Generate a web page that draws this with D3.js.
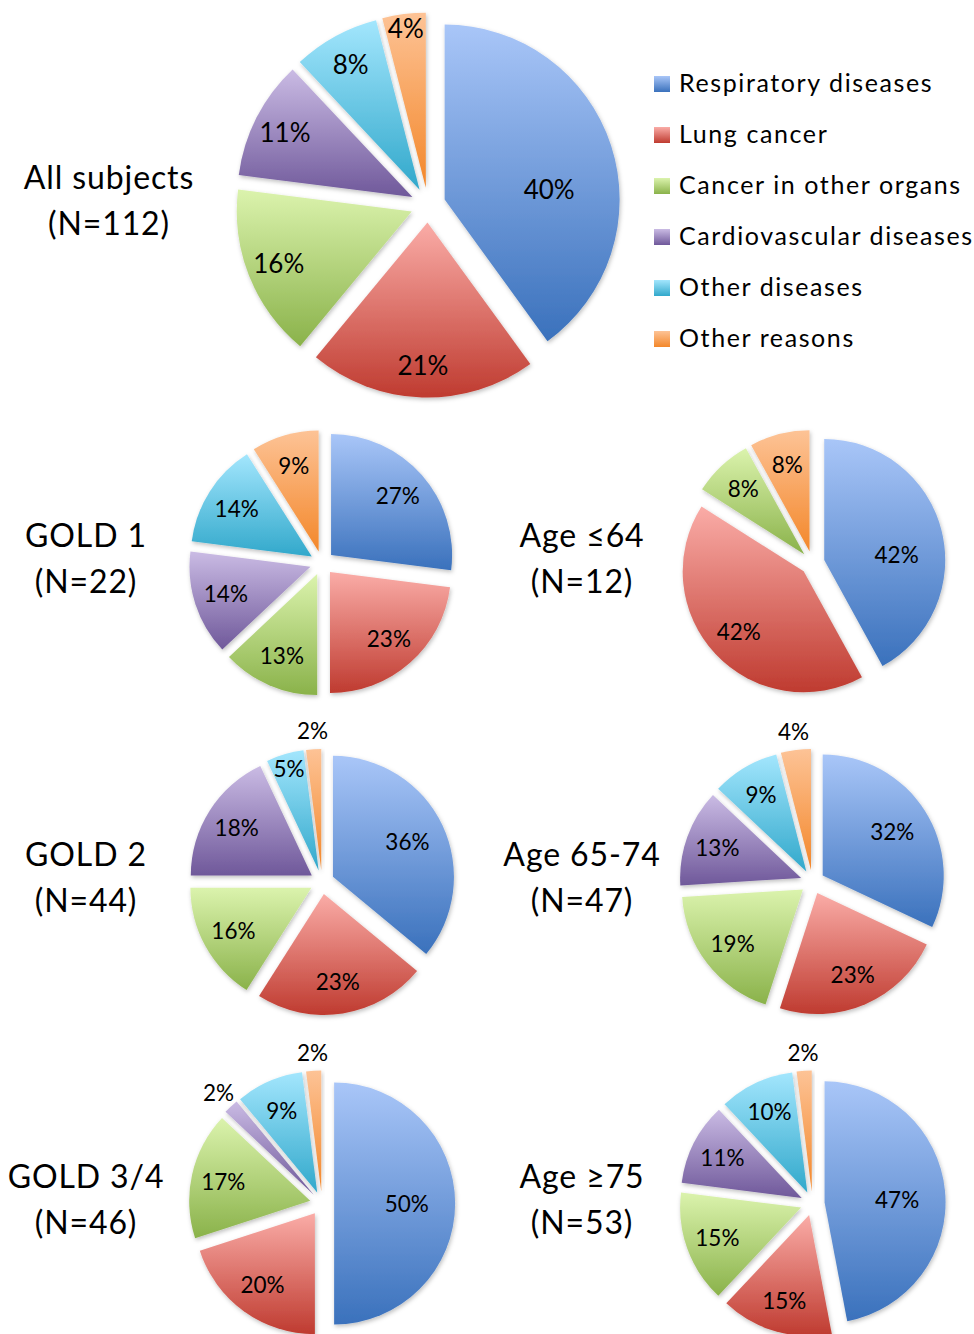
<!DOCTYPE html>
<html>
<head>
<meta charset="utf-8">
<script src="https://cdn.jsdelivr.net/npm/d3@7"></script>
<style>
  html, body { margin: 0; padding: 0; background: #fff; }
  svg { display: block; }
  text { font-family: Lato, "Open Sans", sans-serif; fill: #000; }
</style>
</head>
<body>
<svg id="chart" width="974" height="1334"></svg>
<script>
// ---------- data ----------
const categories = ["Respiratory diseases", "Lung cancer", "Cancer in other organs",
                    "Cardiovascular diseases", "Other diseases", "Other reasons"];
const groupTitles = ["All subjects", "GOLD 1", "Age \u226464", "GOLD 2", "Age 65-74", "GOLD 3/4", "Age \u226575"];
const groupN      = [112, 22, 12, 44, 47, 46, 53];
const allSubjects = [40, 21, 16, 11, 8, 4];
const gold1       = [27, 23, 13, 14, 14, 9];
const age64       = [42, 42, 8, 0, 0, 8];
const gold2       = [36, 23, 16, 18, 5, 2];
const age65_74    = [32, 23, 19, 13, 9, 4];
const gold34      = [50, 20, 17, 2, 9, 2];
const age75       = [47, 15, 15, 11, 10, 2];
const groupValues = [allSubjects, gold1, age64, gold2, age65_74, gold34, age75];

// ---------- styles / layout ----------
const gradColors = [
  ["#a9c6f8", "#3a71bc"],
  ["#faaca7", "#bf3b30"],
  ["#dbf3ad", "#8ab24a"],
  ["#cabbe4", "#6f589a"],
  ["#a3e6fd", "#31a8cb"],
  ["#fdc396", "#f3872a"]
];
const layout = [
  { cx: 428,   cy: 205,    r: 175, tx: 109, labelSize: 26 },
  { cx: 322,   cy: 563,    r: 121, tx: 86,  labelSize: 22.5 },
  { cx: 812.5, cy: 563,    r: 121, tx: 582, labelSize: 22.5 },
  { cx: 322,   cy: 882,    r: 121, tx: 86,  labelSize: 22.5 },
  { cx: 812.5, cy: 882,    r: 121, tx: 582, labelSize: 22.5 },
  { cx: 322,   cy: 1203.5, r: 121, tx: 86,  labelSize: 22.5 },
  { cx: 812.5, cy: 1203.5, r: 121, tx: 582, labelSize: 22.5 }
];

const svg = d3.select("#chart");
const defs = svg.append("defs");

gradColors.forEach((c, i) => {
  const g = defs.append("linearGradient")
    .attr("id", "grad" + i)
    .attr("x1", 0).attr("y1", 0).attr("x2", 0).attr("y2", 1);
  g.append("stop").attr("offset", "0%").attr("stop-color", c[0]);
  g.append("stop").attr("offset", "100%").attr("stop-color", c[1]);
});

const shadow = defs.append("filter").attr("id", "shadow")
  .attr("x", "-20%").attr("y", "-20%").attr("width", "140%").attr("height", "140%");
shadow.append("feDropShadow")
  .attr("dx", 1).attr("dy", 2).attr("stdDeviation", 2)
  .attr("flood-color", "#000").attr("flood-opacity", 0.25);

const color = d3.scaleOrdinal().domain(d3.range(categories.length)).range(gradColors.map((c, i) => `url(#grad${i})`));

const pie = d3.pie().sort(null).value(d => d.v);

// Excel-like "best fit" label placement
function labelPos(d, r) {
  const m = (d.startAngle + d.endAngle) / 2;
  const s = (d.endAngle - d.startAngle) * r;
  let lr, a = m;
  if (s < 33) lr = r + 18;
  else if (s < 45) lr = r - 15;
  else if (d.index === 0 && d.data.v >= 40) { lr = 0.6 * r; a = 0.3 * m + 0.7 * Math.PI / 2; }
  else if (d.index === 0 && d.data.v >= 30) lr = 0.68 * r;
  else lr = r - 32;
  return [lr * Math.sin(a), -lr * Math.cos(a)];
}

groupValues.forEach((vals, gi) => {
  const L = layout[gi];
  const r = L.r, explode = 0.1 * r;
  const arc = d3.arc().innerRadius(0).outerRadius(r);
  const data = pie(vals.map((v, i) => ({ v, i })));
  const g = svg.append("g").attr("transform", `translate(${L.cx},${L.cy})`);

  const slices = g.selectAll("g.slice")
    .data(data.filter(d => d.data.v > 0))
    .join("g")
    .attr("class", "slice")
    .attr("transform", d => {
      const m = (d.startAngle + d.endAngle) / 2;
      return `translate(${explode * Math.sin(m)},${-explode * Math.cos(m)})`;
    });

  slices.append("path")
    .attr("d", arc)
    .attr("fill", d => color(d.data.i))
    .attr("filter", "url(#shadow)");

  slices.append("text")
    .attr("text-anchor", "middle")
    .attr("dy", "0.36em")
    .style("font-size", L.labelSize + "px")
    .attr("transform", d => `translate(${labelPos(d, r)})`)
    .text(d => d.data.v + "%");

  // title
  const t = svg.append("text")
    .attr("text-anchor", "middle")
    .style("font-size", "32px")
    .style("letter-spacing", "0.9px");
  t.append("tspan").attr("x", L.tx).attr("y", L.cy - 16).text(groupTitles[gi]);
  t.append("tspan").attr("x", L.tx).attr("y", L.cy + 30).text(`(N=${groupN[gi]})`);
});

// legend
const legend = svg.append("g").attr("transform", "translate(654,92)");
const items = legend.selectAll("g").data(categories).join("g")
  .attr("transform", (d, i) => `translate(0,${i * 51})`);
items.append("rect")
  .attr("x", 0).attr("y", -16).attr("width", 16).attr("height", 16)
  .attr("fill", (d, i) => color(i));
items.append("text")
  .attr("x", 25).attr("y", 0)
  .style("font-size", "25px")
  .style("letter-spacing", "1.6px")
  .text(d => d);
</script>
</body>
</html>
